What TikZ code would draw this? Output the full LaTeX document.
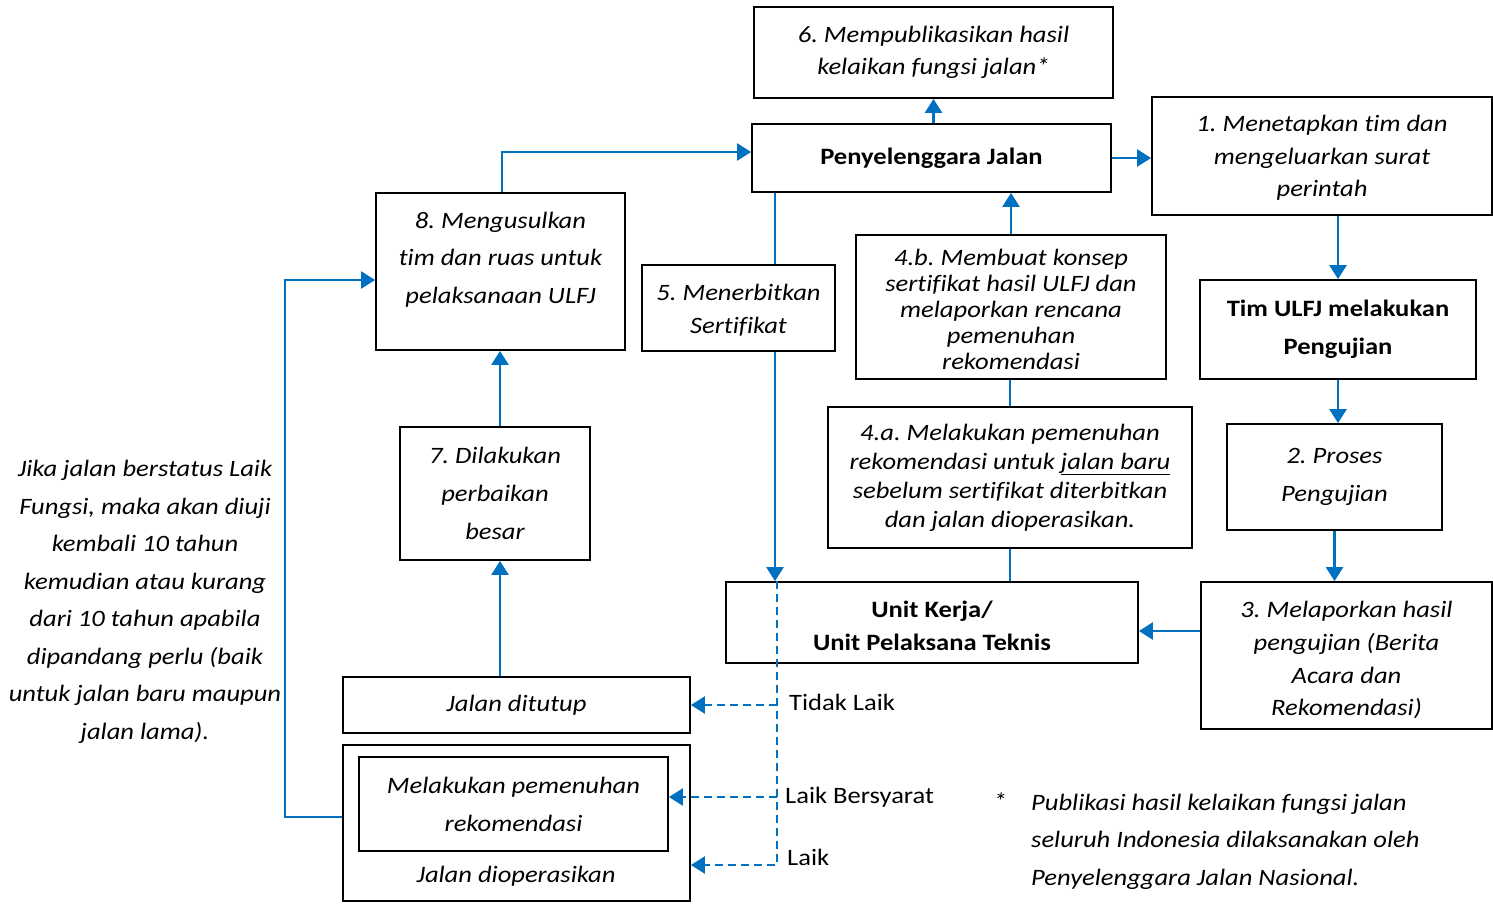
\documentclass[tikz,border=0pt]{standalone}
\usepackage{fontspec}
\setmainfont{Carlito}[FakeStretch=1.13, Ligatures=NoCommon]
\usetikzlibrary{arrows.meta}
\definecolor{cblue}{HTML}{0070C0}
\frenchspacing
\tikzset{
  box/.style={draw, line width=1.8pt, inner sep=0pt, align=center, font=\fontsize{23.5}{#1}\selectfont\itshape},
  box/.default=32,
  bbox/.style={draw, line width=1.8pt, inner sep=0pt, align=center, font=\fontsize{23.5}{#1}\selectfont\bfseries},
  bbox/.default=33,
  txt/.style={inner sep=0pt, align=center, font=\fontsize{23.5}{#1}\selectfont\itshape},
  txt/.default=37.5,
  lbl/.style={inner sep=0pt, anchor=west, font=\fontsize{23.5}{28}\selectfont},
  conn/.style={draw=cblue, line width=2.4pt},
  arr/.style={conn, -{Triangle[length=14pt,width=17pt]}},
  darr/.style={draw=cblue, line width=2.4pt, dash pattern=on 8pt off 5pt, -{Triangle[length=14pt,width=17pt]}},
}
\begin{document}
\frenchspacing
\begin{tikzpicture}[x=1pt,y=-1pt]
\useasboundingbox (0,0) rectangle (1493,903);

% boxes
\node[box=32, minimum width=359pt, minimum height=91pt] (b6) at (933.5,52.5) {6. Mempublikasikan hasil\\kelaikan fungsi jalan*};
\node[bbox, minimum width=359pt, minimum height=68pt] (pj) at (931.5,158) {Penyelenggara Jalan};
\node[box=32.5, minimum width=340pt, minimum height=118pt] (b1) at (1322,156) {\rule{0pt}{20pt}1. Menetapkan tim dan\\mengeluarkan surat\\perintah};
\node[bbox=38, minimum width=276pt, minimum height=99pt] (tim) at (1338,329.5) {Tim ULFJ melakukan\\Pengujian};
\node[box=38, minimum width=215pt, minimum height=106pt] (b2) at (1334.5,477) {2. Proses\\Pengujian};
\node[box=32.7, minimum width=291pt, minimum height=147pt] (b3) at (1346.5,655.5) {\rule{0pt}{26pt}3. Melaporkan hasil\\pengujian (Berita\\Acara dan\\Rekomendasi)};
\node[bbox=33, minimum width=412pt, minimum height=81pt] (uk) at (932,622.5) {\rule{0pt}{23pt}Unit Kerja/\\Unit Pelaksana Teknis};
\node[box=29, minimum width=364pt, minimum height=141pt] (b4a) at (1010,477.5) {4.a. Melakukan pemenuhan\\rekomendasi untuk \underline{jalan baru}\\sebelum sertifikat diterbitkan\\dan jalan dioperasikan.};
\node[box=26, minimum width=310pt, minimum height=144pt] (b4b) at (1011,307) {\rule{0pt}{21pt}4.b. Membuat konsep\\sertifikat hasil ULFJ dan\\melaporkan rencana\\pemenuhan\\rekomendasi};
\node[box=33, minimum width=193pt, minimum height=86pt] (b5) at (738.5,308) {\rule{0pt}{20pt}5. Menerbitkan\\Sertifikat};
\node[box, minimum width=249pt, minimum height=157pt] (b8) at (500.5,271.5) {};
\node[txt] (b8t) at (500.5,259.5) {8. Mengusulkan\\tim dan ruas untuk\\pelaksanaan ULFJ};
\node[box=38, minimum width=190pt, minimum height=133pt] (b7) at (495,493.5) {7. Dilakukan\\perbaikan\\besar};
\node[box, minimum width=347pt, minimum height=56pt] (jd) at (516.5,705) {Jalan ditutup};
\node[box, minimum width=347pt, minimum height=156pt] (jo) at (516.5,823) {};
\node[box=38, minimum width=309pt, minimum height=94pt] (jin) at (513.5,804) {Melakukan pemenuhan\\rekomendasi};
\node[txt] (jot) at (516,876) {Jalan dioperasikan};

% free texts
\node[txt] (left) at (145,602) {Jika jalan berstatus Laik\\Fungsi, maka akan diuji\\kembali 10 tahun\\kemudian atau kurang\\dari 10 tahun apabila\\dipandang perlu (baik\\untuk jalan baru maupun\\jalan lama).};
\node[txt] (star) at (1000,801) {*};
\node[txt, align=left, anchor=west] (foot) at (1031,841.5) {Publikasi hasil kelaikan fungsi jalan\\seluruh Indonesia dilaksanakan oleh\\Penyelenggara Jalan Nasional.};
\node[lbl] (tl) at (789,702) {Tidak Laik};
\node[lbl] (lb) at (785,797) {Laik Bersyarat};
\node[lbl] (lk) at (787,857) {Laik};

% coordinates
\coordinate (v5) at (775,200);
\coordinate (vd) at (777,600);
\coordinate (laik) at (777,865);
\coordinate (v7) at (500,600);
\coordinate (t8) at (502,152);
\coordinate (l1) at (285,817);
\coordinate (l2) at (285,280);

% connectors
\draw[arr] (pj.north -| b6.south) -- (b6.south);
\draw[arr] (pj.east) -- (pj.east -| b1.west);
\draw[arr] (b1.south -| tim.north) -- (tim.north);
\draw[arr] (tim.south) -- (tim.south |- b2.north);
\draw[arr] (b2.south) -- (b2.south |- b3.north);
\draw[arr] ([yshift=-8.5pt]uk.east -| b3.west) -- ([yshift=-8.5pt]uk.east);
\draw[conn] (uk.north -| b4a.south) -- (b4a.south);
\draw[conn] (b4a.north) -- (b4a.north |- b4b.south);
\draw[arr] (b4b.north) -- (b4b.north |- pj.south);
\draw[conn] (pj.south -| v5) -- (b5.north -| v5);
\draw[arr] (b5.south -| v5) -- (uk.north -| v5);
\draw[darr] (uk.north -| vd) -- (laik) -- (laik -| jo.east);
\draw[darr] (vd |- jd.east) -- (jd.east);
\draw[darr] ([yshift=7pt]jin.east -| vd) -- ([yshift=7pt]jin.east);
\draw[arr] (jd.north -| v7) -- (b7.south -| v7);
\draw[arr] (b7.north -| v7) -- (b8.south -| v7);
\draw[arr] (b8.north -| t8) -- (t8) -- (t8 -| pj.west);
\draw[arr] (l1 -| jo.west) -- (l1) -- (l2) -- (l2 -| b8.west);
\end{tikzpicture}
\end{document}
